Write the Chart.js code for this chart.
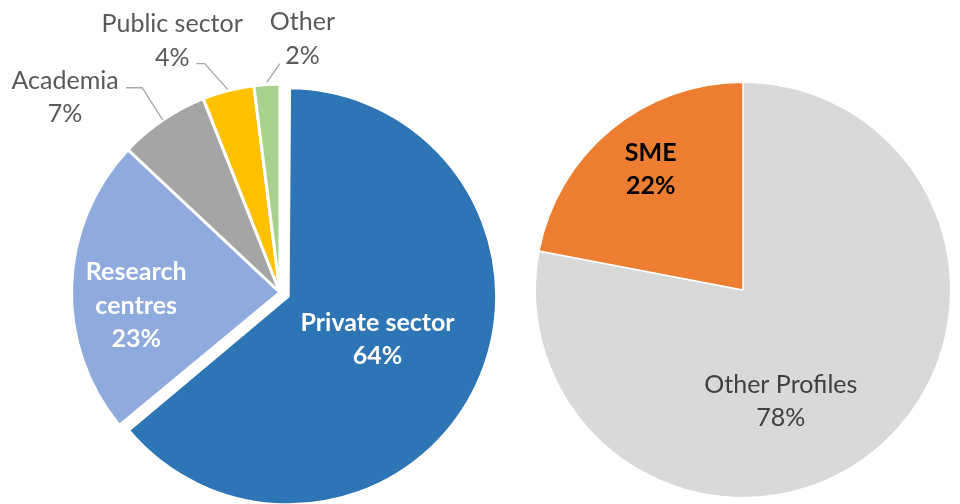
<!DOCTYPE html>
<html><head><meta charset="utf-8">
<script src="https://cdn.jsdelivr.net/npm/chart.js@4.4.1/dist/chart.umd.min.js"></script>
<style>
html,body{margin:0;padding:0;background:#fff;overflow:hidden}
#wrap{position:relative;width:960px;height:504px}
#wrap canvas{position:absolute;left:0;top:0}
</style></head><body>
<div id="wrap"><canvas id="left" width="960" height="504"></canvas><canvas id="right" width="960" height="504"></canvas></div>
<script>
// ---- data ----
const sectorLabels = ['Private sector', 'Research centres', 'Academia', 'Public sector', 'Other'];
const sectorValues = [64, 23, 7, 4, 2];
const sectorColors = ['#2E75B6', '#8FAADC', '#A5A5A5', '#FFC000', '#A9D18E'];
const profileLabels = ['Other Profiles', 'SME'];
const profileValues = [78, 22];
const profileColors = ['#D9D9D9', '#ED7D31'];

const FONT = 'Lato, "Open Sans", sans-serif';
const FONT_SIZE = 25;
const LINE_H = 33.5;

const pieLabelPlugin = {
  id: 'pieLabels',
  afterDatasetUpdate(chart, args) {
    // keep exploded slices at the same radius as the rest of the pie
    const meta = chart.getDatasetMeta(args.index);
    meta.data.forEach(arc => {
      const off = (arc.options && arc.options.offset || 0) / 4;
      if (!off) return;
      const fix = 1 - Math.sin(Math.min(Math.PI, arc.circumference || 0));
      arc.outerRadius -= off * fix;
    });
  },
  afterDatasetsDraw(chart, args, opts) {
    const ctx = chart.ctx;
    const meta = chart.getDatasetMeta(0);
    const data = chart.data.datasets[0].data;
    const total = data.reduce((a, b) => a + b, 0);
    meta.data.forEach((arc, i) => {
      const cfg = opts.items[i];
      if (!cfg) return;
      const mid = (arc.startAngle + arc.endAngle) / 2;
      const off = (arc.options.offset || 0) / 4;
      const fix = 1 - Math.sin(Math.min(Math.PI, arc.circumference || 0));
      const R = arc.outerRadius + off * fix;
      const ux = Math.cos(mid), uy = Math.sin(mid);
      const cx = arc.x + ux * off, cy = arc.y + uy * off;
      const name = chart.data.labels[i];
      const lines = cfg.wrap ? name.split(' ') : [name];
      lines.push(Math.round(data[i] / total * 100) + '%');
      let bx, by;
      if (cfg.inside) {
        bx = cx + ux * R * cfg.r + cfg.dx;
        by = cy + uy * R * cfg.r + cfg.dy;
      } else {
        const ex = cx + ux * R, ey = cy + uy * R;
        bx = ex + cfg.dx; by = ey + cfg.dy;
        ctx.save();
        ctx.strokeStyle = opts.leaderColor;
        ctx.lineWidth = 1.3;
        ctx.beginPath();
        ctx.moveTo(ex + ux * (cfg.gap || 0), ey + uy * (cfg.gap || 0));
        (cfg.path || []).forEach(p => ctx.lineTo(ex + p[0], ey + p[1]));
        ctx.stroke();
        ctx.restore();
      }
      ctx.save();
      ctx.font = (cfg.bold ? 'bold ' : '') + opts.size + 'px ' + opts.family;
      ctx.fillStyle = cfg.color;
      ctx.textAlign = 'center';
      ctx.textBaseline = 'alphabetic';
      const capHalf = opts.size * 0.36;
      lines.forEach((t, k) => {
        const y = by + (k - (lines.length - 1) / 2) * opts.lineHeight;
        ctx.fillText(t, bx, y + capHalf);
      });
      ctx.restore();
    });
  }
};

const common = {
  type: 'pie',
  plugins: [pieLabelPlugin]
};

new Chart(document.getElementById('left'), {
  ...common,
  data: {
    labels: sectorLabels,
    datasets: [{
      data: sectorValues,
      backgroundColor: sectorColors,
      borderColor: '#FFFFFF',
      borderWidth: 3,
      offset: [36, 0, 0, 0, 0]
    }]
  },
  options: {
    responsive: false,
    animation: false,
    events: [],
    radius: 208.5,
    layout: { padding: { left: 0, right: 400, top: 81, bottom: 0 } },
    plugins: {
      legend: { display: false },
      tooltip: { enabled: false },
      pieLabels: {
        family: FONT, size: FONT_SIZE, lineHeight: LINE_H, leaderColor: '#A6A6A6',
        items: [
          { inside: true, r: 0.474, dx: 0, dy: 0, bold: true, color: '#FFFFFF' },
          { inside: true, r: 0.69, dx: 0, dy: 17, bold: true, color: '#FFFFFF', wrap: true },
          { inside: false, dx: -97.7, dy: -23.8, color: '#595959', path: [[-20.7, -32.3], [-36.7, -32.3]] },
          { inside: false, dx: -56, dy: -50.7, color: '#595959', gap: 1, path: [[-23.5, -27], [-31.8, -27]] },
          { inside: false, dx: 35.5, dy: -46.4, color: '#595959', gap: 2, path: [[13, -20.9]] }
        ]
      }
    }
  }
});

new Chart(document.getElementById('right'), {
  ...common,
  data: {
    labels: profileLabels,
    datasets: [{
      data: profileValues,
      backgroundColor: profileColors,
      borderColor: '#FFFFFF',
      borderWidth: 1.5
    }]
  },
  options: {
    responsive: false,
    animation: false,
    events: [],
    radius: 207.7,
    layout: { padding: { left: 526, right: 0, top: 76, bottom: 0 } },
    plugins: {
      legend: { display: false },
      tooltip: { enabled: false },
      pieLabels: {
        family: FONT, size: FONT_SIZE, lineHeight: LINE_H, leaderColor: '#A6A6A6',
        items: [
          { inside: true, r: 0.55, dx: -35, dy: 22.3, color: '#404040' },
          { inside: true, r: 0.73, dx: 4.3, dy: -4.6, bold: true, color: '#000000' }
        ]
      }
    }
  }
});
</script>
</body></html>
